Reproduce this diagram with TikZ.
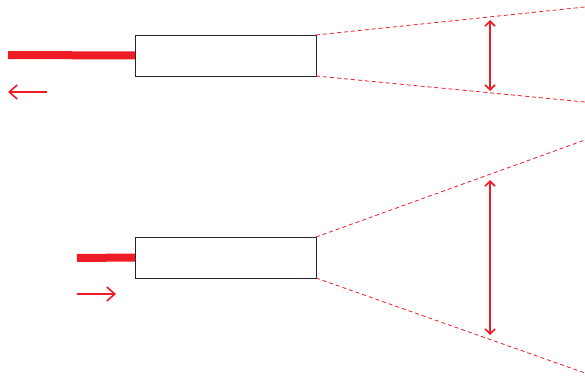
\documentclass[tikz,border=0pt]{standalone}
\usetikzlibrary{arrows.meta}
\definecolor{myred}{HTML}{EE1C25}
\tikzset{
  boxnode/.style={draw=black!85,line width=0.9pt,minimum width=181pt,minimum height=41pt,inner sep=0pt,outer sep=0pt},
  beam/.style={myred,line width=8pt},
  ray/.style={myred,line width=0.8pt,dash pattern=on 4pt off 3pt},
  dirarrow/.style={myred,line width=1.6pt,-{Straight Barb[length=8pt,width=14pt]}},
  sizearrow/.style={myred,line width=1.6pt,{Straight Barb[length=5pt,width=10pt]}-{Straight Barb[length=5pt,width=10pt]}}
}
\begin{document}
\begin{tikzpicture}[x=1pt,y=-1pt]
\useasboundingbox (0,0) rectangle (585,377);
% top
\node[boxnode] (b1) at (225.5,55.5) {};
\coordinate (t1l) at (8,55);
\draw[beam] (t1l) -- (b1.west);
\coordinate (a1s) at (47,92);
\coordinate (a1e) at (8,92);
\draw[dirarrow] (a1s) -- (a1e);
\coordinate (r1a) at (585,7);
\coordinate (r1b) at (585,102);
\draw[ray] (b1.north east) -- (r1a);
\draw[ray] (b1.south east) -- (r1b);
\coordinate (d1a) at (490,20);
\coordinate (d1b) at (490,91);
\draw[sizearrow] (d1a) -- (d1b);
% bottom
\node[boxnode] (b2) at (225.5,257.5) {};
\coordinate (t2l) at (77,258);
\draw[beam] (t2l) -- (b2.west);
\coordinate (a2s) at (77,294);
\coordinate (a2e) at (116,294);
\draw[dirarrow] (a2s) -- (a2e);
\coordinate (r2a) at (585,140);
\coordinate (r2b) at (585,373);
\draw[ray] (b2.north east) -- (r2a);
\draw[ray] (b2.south east) -- (r2b);
\coordinate (d2a) at (490,180);
\coordinate (d2b) at (490,335);
\draw[sizearrow] (d2a) -- (d2b);
\end{tikzpicture}
\end{document}
